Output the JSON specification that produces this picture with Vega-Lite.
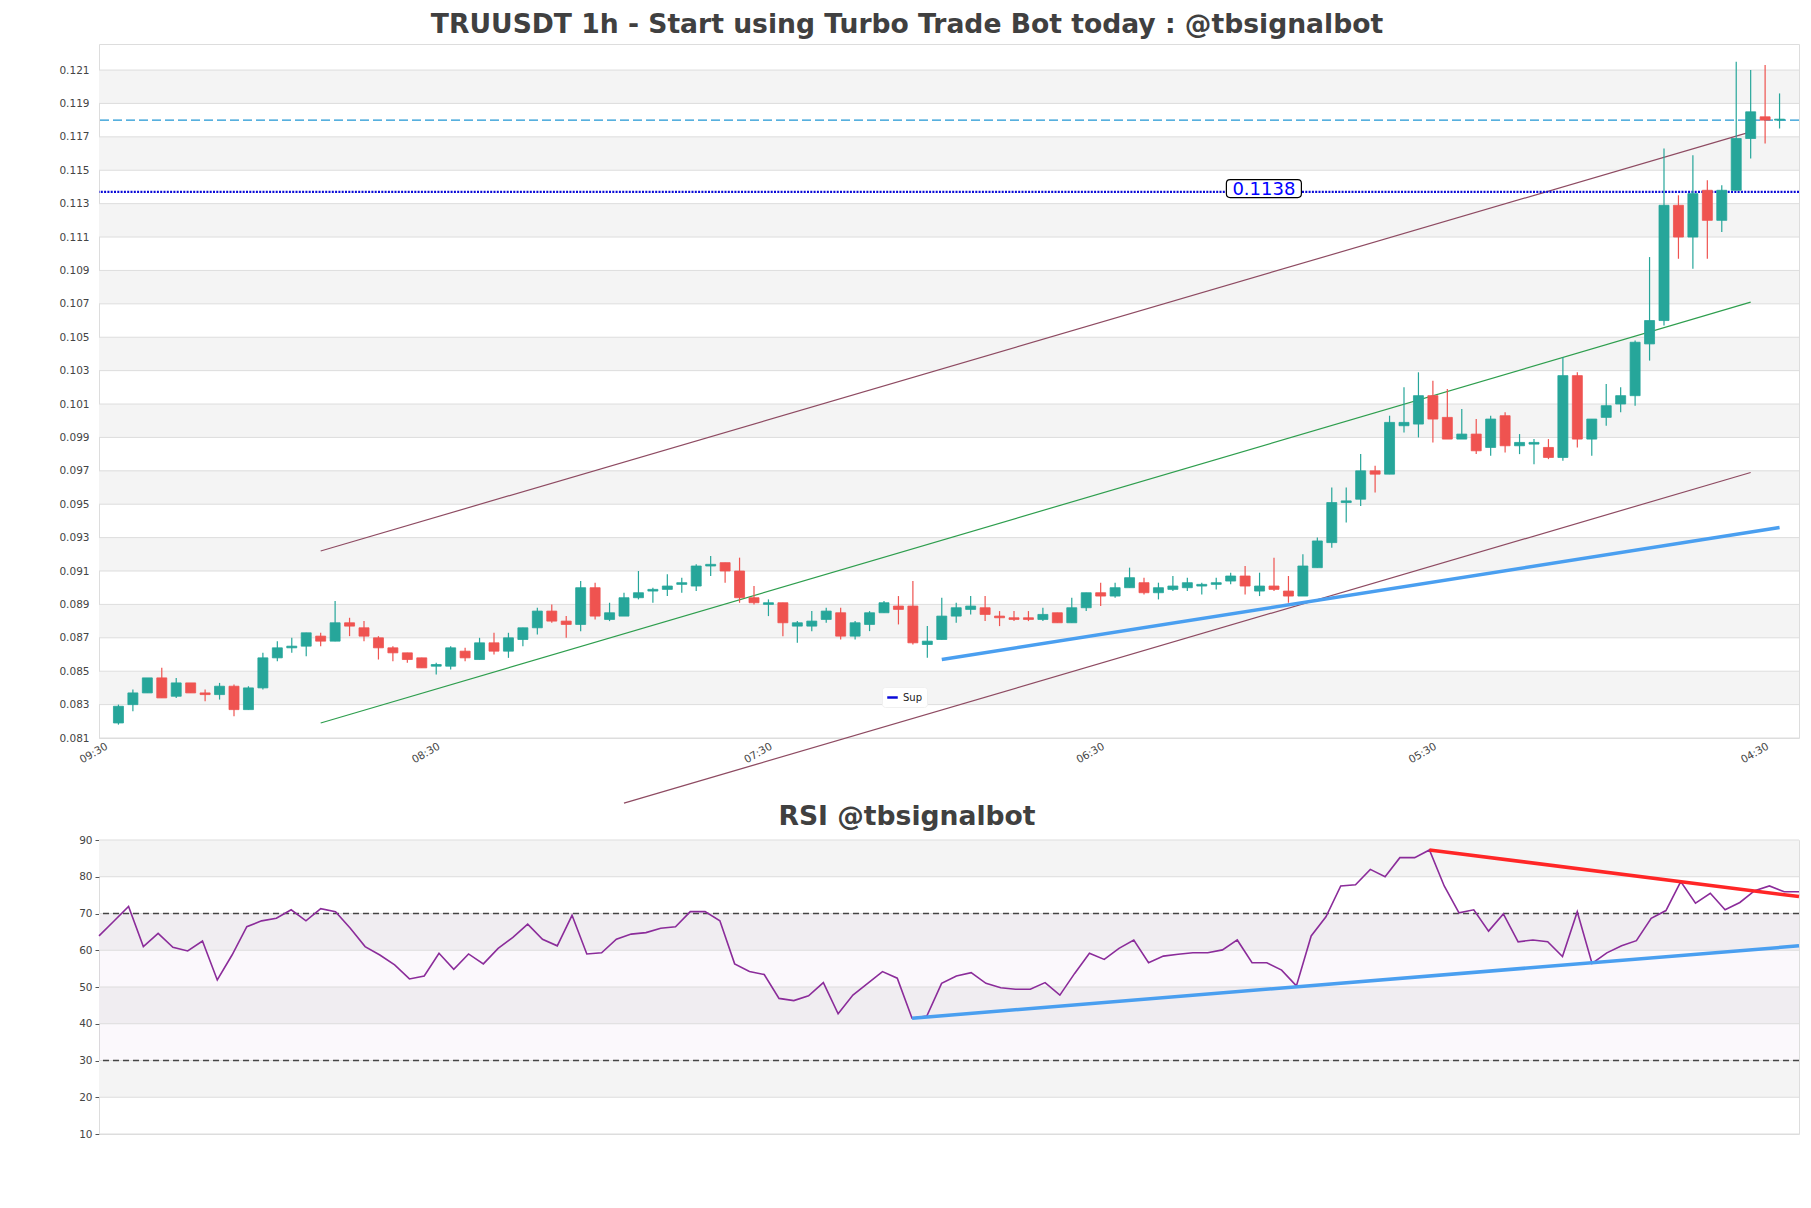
{
  "$schema": "https://vega.github.io/schema/vega-lite/v6.json",
  "padding": {"left": 58, "top": 11, "right": 5, "bottom": 5},
  "background": "white",
  "config": {
    "font": "DejaVu Sans",
    "view": {"stroke": "#dddddd", "strokeWidth": 1},
    "axis": {"labelOverlap": false, "labelBound": false}
  },
  "bounds": "flush",
  "spacing": 102,
  "resolve": {"scale": {"x": "independent", "y": "independent", "color": "independent"}, "legend": {"color": "independent"}},
  "datasets": {
    "candles": [
      {"idx":0,"open":0.0819,"high":0.0830,"low":0.0818,"close":0.0829},
      {"idx":1,"open":0.0830,"high":0.0839,"low":0.0826,"close":0.0837},
      {"idx":2,"open":0.0837,"high":0.0846,"low":0.0837,"close":0.0846},
      {"idx":3,"open":0.0846,"high":0.0852,"low":0.0834,"close":0.0834},
      {"idx":4,"open":0.0835,"high":0.0846,"low":0.0834,"close":0.0843},
      {"idx":5,"open":0.0843,"high":0.0843,"low":0.0837,"close":0.0837},
      {"idx":6,"open":0.0837,"high":0.0839,"low":0.0832,"close":0.0836},
      {"idx":7,"open":0.0836,"high":0.0843,"low":0.0833,"close":0.0841},
      {"idx":8,"open":0.0841,"high":0.0842,"low":0.0823,"close":0.0827},
      {"idx":9,"open":0.0827,"high":0.0841,"low":0.0827,"close":0.0840},
      {"idx":10,"open":0.0840,"high":0.0861,"low":0.0839,"close":0.0858},
      {"idx":11,"open":0.0858,"high":0.0868,"low":0.0856,"close":0.0864},
      {"idx":12,"open":0.0864,"high":0.0870,"low":0.0861,"close":0.0865},
      {"idx":13,"open":0.0865,"high":0.0873,"low":0.0859,"close":0.0873},
      {"idx":14,"open":0.0871,"high":0.0873,"low":0.0865,"close":0.0868},
      {"idx":15,"open":0.0868,"high":0.0892,"low":0.0868,"close":0.0879},
      {"idx":16,"open":0.0879,"high":0.0882,"low":0.0871,"close":0.0877},
      {"idx":17,"open":0.0876,"high":0.0880,"low":0.0868,"close":0.0871},
      {"idx":18,"open":0.0870,"high":0.0871,"low":0.0857,"close":0.0864},
      {"idx":19,"open":0.0864,"high":0.0865,"low":0.0856,"close":0.0861},
      {"idx":20,"open":0.0861,"high":0.0861,"low":0.0855,"close":0.0857},
      {"idx":21,"open":0.0858,"high":0.0858,"low":0.0852,"close":0.0852},
      {"idx":22,"open":0.0853,"high":0.0855,"low":0.0848,"close":0.0854},
      {"idx":23,"open":0.0853,"high":0.0865,"low":0.0851,"close":0.0864},
      {"idx":24,"open":0.0862,"high":0.0864,"low":0.0856,"close":0.0858},
      {"idx":25,"open":0.0857,"high":0.0870,"low":0.0857,"close":0.0867},
      {"idx":26,"open":0.0867,"high":0.0873,"low":0.0860,"close":0.0862},
      {"idx":27,"open":0.0862,"high":0.0873,"low":0.0858,"close":0.0870},
      {"idx":28,"open":0.0869,"high":0.0876,"low":0.0865,"close":0.0876},
      {"idx":29,"open":0.0876,"high":0.0888,"low":0.0872,"close":0.0886},
      {"idx":30,"open":0.0886,"high":0.0890,"low":0.0879,"close":0.0880},
      {"idx":31,"open":0.0880,"high":0.0883,"low":0.0870,"close":0.0878},
      {"idx":32,"open":0.0878,"high":0.0904,"low":0.0874,"close":0.0900},
      {"idx":33,"open":0.0900,"high":0.0903,"low":0.0881,"close":0.0883},
      {"idx":34,"open":0.0881,"high":0.0891,"low":0.0880,"close":0.0885},
      {"idx":35,"open":0.0883,"high":0.0897,"low":0.0883,"close":0.0894},
      {"idx":36,"open":0.0894,"high":0.0910,"low":0.0893,"close":0.0897},
      {"idx":37,"open":0.0898,"high":0.0900,"low":0.0891,"close":0.0899},
      {"idx":38,"open":0.0899,"high":0.0908,"low":0.0895,"close":0.0901},
      {"idx":39,"open":0.0902,"high":0.0906,"low":0.0897,"close":0.0903},
      {"idx":40,"open":0.0901,"high":0.0914,"low":0.0898,"close":0.0913},
      {"idx":41,"open":0.0913,"high":0.0919,"low":0.0907,"close":0.0914},
      {"idx":42,"open":0.0915,"high":0.0915,"low":0.0903,"close":0.0910},
      {"idx":43,"open":0.0910,"high":0.0918,"low":0.0891,"close":0.0894},
      {"idx":44,"open":0.0894,"high":0.0901,"low":0.0890,"close":0.0891},
      {"idx":45,"open":0.0890,"high":0.0893,"low":0.0883,"close":0.0891},
      {"idx":46,"open":0.0891,"high":0.0891,"low":0.0871,"close":0.0879},
      {"idx":47,"open":0.0877,"high":0.0880,"low":0.0867,"close":0.0879},
      {"idx":48,"open":0.0877,"high":0.0886,"low":0.0874,"close":0.0880},
      {"idx":49,"open":0.0881,"high":0.0888,"low":0.0879,"close":0.0886},
      {"idx":50,"open":0.0885,"high":0.0888,"low":0.0869,"close":0.0871},
      {"idx":51,"open":0.0871,"high":0.0880,"low":0.0869,"close":0.0879},
      {"idx":52,"open":0.0878,"high":0.0886,"low":0.0874,"close":0.0885},
      {"idx":53,"open":0.0885,"high":0.0892,"low":0.0885,"close":0.0891},
      {"idx":54,"open":0.0889,"high":0.0895,"low":0.0878,"close":0.0887},
      {"idx":55,"open":0.0889,"high":0.0904,"low":0.0866,"close":0.0867},
      {"idx":56,"open":0.0866,"high":0.0877,"low":0.0858,"close":0.0868},
      {"idx":57,"open":0.0869,"high":0.0894,"low":0.0869,"close":0.0883},
      {"idx":58,"open":0.0883,"high":0.0891,"low":0.0879,"close":0.0888},
      {"idx":59,"open":0.0887,"high":0.0895,"low":0.0884,"close":0.0889},
      {"idx":60,"open":0.0888,"high":0.0895,"low":0.0880,"close":0.0884},
      {"idx":61,"open":0.0883,"high":0.0886,"low":0.0877,"close":0.0882},
      {"idx":62,"open":0.0882,"high":0.0886,"low":0.0880,"close":0.0881},
      {"idx":63,"open":0.0882,"high":0.0886,"low":0.0880,"close":0.0881},
      {"idx":64,"open":0.0881,"high":0.0888,"low":0.0880,"close":0.0884},
      {"idx":65,"open":0.0885,"high":0.0885,"low":0.0879,"close":0.0879},
      {"idx":66,"open":0.0879,"high":0.0894,"low":0.0879,"close":0.0888},
      {"idx":67,"open":0.0888,"high":0.0897,"low":0.0886,"close":0.0897},
      {"idx":68,"open":0.0897,"high":0.0903,"low":0.0889,"close":0.0895},
      {"idx":69,"open":0.0895,"high":0.0903,"low":0.0894,"close":0.0900},
      {"idx":70,"open":0.0900,"high":0.0912,"low":0.0900,"close":0.0906},
      {"idx":71,"open":0.0903,"high":0.0906,"low":0.0896,"close":0.0897},
      {"idx":72,"open":0.0897,"high":0.0903,"low":0.0893,"close":0.0900},
      {"idx":73,"open":0.0899,"high":0.0907,"low":0.0898,"close":0.0901},
      {"idx":74,"open":0.0900,"high":0.0906,"low":0.0898,"close":0.0903},
      {"idx":75,"open":0.0901,"high":0.0903,"low":0.0896,"close":0.0902},
      {"idx":76,"open":0.0902,"high":0.0906,"low":0.0899,"close":0.0903},
      {"idx":77,"open":0.0904,"high":0.0909,"low":0.0902,"close":0.0907},
      {"idx":78,"open":0.0907,"high":0.0913,"low":0.0896,"close":0.0901},
      {"idx":79,"open":0.0898,"high":0.0909,"low":0.0895,"close":0.0901},
      {"idx":80,"open":0.0901,"high":0.0918,"low":0.0898,"close":0.0899},
      {"idx":81,"open":0.0898,"high":0.0907,"low":0.0891,"close":0.0895},
      {"idx":82,"open":0.0895,"high":0.0920,"low":0.0895,"close":0.0913},
      {"idx":83,"open":0.0912,"high":0.0930,"low":0.0912,"close":0.0928},
      {"idx":84,"open":0.0927,"high":0.0960,"low":0.0924,"close":0.0951},
      {"idx":85,"open":0.0951,"high":0.0960,"low":0.0939,"close":0.0952},
      {"idx":86,"open":0.0953,"high":0.0980,"low":0.0949,"close":0.0970},
      {"idx":87,"open":0.0970,"high":0.0973,"low":0.0957,"close":0.0968},
      {"idx":88,"open":0.0968,"high":0.1003,"low":0.0968,"close":0.0999},
      {"idx":89,"open":0.0997,"high":0.1020,"low":0.0993,"close":0.0999},
      {"idx":90,"open":0.0998,"high":0.1029,"low":0.0990,"close":0.1015},
      {"idx":91,"open":0.1015,"high":0.1024,"low":0.0987,"close":0.1001},
      {"idx":92,"open":0.1002,"high":0.1019,"low":0.0989,"close":0.0989},
      {"idx":93,"open":0.0989,"high":0.1007,"low":0.0989,"close":0.0992},
      {"idx":94,"open":0.0992,"high":0.1001,"low":0.0980,"close":0.0982},
      {"idx":95,"open":0.0984,"high":0.1003,"low":0.0979,"close":0.1001},
      {"idx":96,"open":0.1003,"high":0.1005,"low":0.0981,"close":0.0985},
      {"idx":97,"open":0.0985,"high":0.0992,"low":0.0980,"close":0.0987},
      {"idx":98,"open":0.0986,"high":0.0989,"low":0.0974,"close":0.0987},
      {"idx":99,"open":0.0984,"high":0.0989,"low":0.0977,"close":0.0978},
      {"idx":100,"open":0.0978,"high":0.1038,"low":0.0976,"close":0.1027},
      {"idx":101,"open":0.1027,"high":0.1029,"low":0.0984,"close":0.0989},
      {"idx":102,"open":0.0989,"high":0.1001,"low":0.0979,"close":0.1001},
      {"idx":103,"open":0.1002,"high":0.1022,"low":0.0997,"close":0.1009},
      {"idx":104,"open":0.1010,"high":0.1020,"low":0.1005,"close":0.1015},
      {"idx":105,"open":0.1015,"high":0.1048,"low":0.1009,"close":0.1047},
      {"idx":106,"open":0.1046,"high":0.1098,"low":0.1036,"close":0.1060},
      {"idx":107,"open":0.1060,"high":0.1163,"low":0.1057,"close":0.1129},
      {"idx":108,"open":0.1129,"high":0.1135,"low":0.1097,"close":0.1110},
      {"idx":109,"open":0.1110,"high":0.1159,"low":0.1091,"close":0.1136},
      {"idx":110,"open":0.1138,"high":0.1144,"low":0.1097,"close":0.1120},
      {"idx":111,"open":0.1120,"high":0.1141,"low":0.1113,"close":0.1138},
      {"idx":112,"open":0.1138,"high":0.1215,"low":0.1138,"close":0.1169},
      {"idx":113,"open":0.1169,"high":0.1210,"low":0.1157,"close":0.1185},
      {"idx":114,"open":0.1182,"high":0.1213,"low":0.1166,"close":0.1180},
      {"idx":115,"open":0.1180,"high":0.1196,"low":0.1175,"close":0.11806}
    ],
    "rsi": [
      {"idx":0,"rsi":63.9},{"idx":1,"rsi":67.9},{"idx":2,"rsi":71.9},{"idx":3,"rsi":61.0},{"idx":4,"rsi":64.6},
      {"idx":5,"rsi":60.8},{"idx":6,"rsi":59.8},{"idx":7,"rsi":62.5},{"idx":8,"rsi":51.9},{"idx":9,"rsi":58.7},
      {"idx":10,"rsi":66.4},{"idx":11,"rsi":68.0},{"idx":12,"rsi":68.7},{"idx":13,"rsi":71.0},{"idx":14,"rsi":68.0},
      {"idx":15,"rsi":71.3},{"idx":16,"rsi":70.5},{"idx":17,"rsi":66.0},{"idx":18,"rsi":61.0},{"idx":19,"rsi":58.7},
      {"idx":20,"rsi":56.0},{"idx":21,"rsi":52.2},{"idx":22,"rsi":53.0},{"idx":23,"rsi":59.2},{"idx":24,"rsi":54.8},
      {"idx":25,"rsi":59.0},{"idx":26,"rsi":56.3},{"idx":27,"rsi":60.5},{"idx":28,"rsi":63.5},{"idx":29,"rsi":67.1},
      {"idx":30,"rsi":63.0},{"idx":31,"rsi":61.2},{"idx":32,"rsi":69.5},{"idx":33,"rsi":59.0},{"idx":34,"rsi":59.3},
      {"idx":35,"rsi":63.0},{"idx":36,"rsi":64.4},{"idx":37,"rsi":64.8},{"idx":38,"rsi":66.0},{"idx":39,"rsi":66.4},
      {"idx":40,"rsi":70.5},{"idx":41,"rsi":70.5},{"idx":42,"rsi":68.0},{"idx":43,"rsi":56.3},{"idx":44,"rsi":54.2},
      {"idx":45,"rsi":53.4},{"idx":46,"rsi":46.9},{"idx":47,"rsi":46.3},{"idx":48,"rsi":47.6},{"idx":49,"rsi":51.2},
      {"idx":50,"rsi":42.7},{"idx":51,"rsi":47.8},{"idx":52,"rsi":51.0},{"idx":53,"rsi":54.2},{"idx":54,"rsi":52.4},
      {"idx":55,"rsi":41.5},{"idx":56,"rsi":42.1},{"idx":57,"rsi":51.0},{"idx":58,"rsi":53.0},{"idx":59,"rsi":53.9},
      {"idx":60,"rsi":51.0},{"idx":61,"rsi":49.8},{"idx":62,"rsi":49.4},{"idx":63,"rsi":49.4},{"idx":64,"rsi":51.2},
      {"idx":65,"rsi":47.8},{"idx":66,"rsi":53.7},{"idx":67,"rsi":59.2},{"idx":68,"rsi":57.5},{"idx":69,"rsi":60.5},
      {"idx":70,"rsi":62.8},{"idx":71,"rsi":56.6},{"idx":72,"rsi":58.4},{"idx":73,"rsi":58.9},{"idx":74,"rsi":59.3},
      {"idx":75,"rsi":59.3},{"idx":76,"rsi":60.1},{"idx":77,"rsi":62.8},{"idx":78,"rsi":56.6},{"idx":79,"rsi":56.6},
      {"idx":80,"rsi":54.6},{"idx":81,"rsi":50.3},{"idx":82,"rsi":63.9},{"idx":83,"rsi":69.1},{"idx":84,"rsi":77.5},
      {"idx":85,"rsi":77.8},{"idx":86,"rsi":82.0},{"idx":87,"rsi":80.0},{"idx":88,"rsi":85.2},{"idx":89,"rsi":85.2},
      {"idx":90,"rsi":87.3},{"idx":91,"rsi":77.5},{"idx":92,"rsi":70.2},{"idx":93,"rsi":71.0},{"idx":94,"rsi":65.2},
      {"idx":95,"rsi":69.9},{"idx":96,"rsi":62.3},{"idx":97,"rsi":62.8},{"idx":98,"rsi":62.3},{"idx":99,"rsi":58.3},
      {"idx":100,"rsi":70.5},{"idx":101,"rsi":56.4},{"idx":102,"rsi":59.3},{"idx":103,"rsi":61.2},{"idx":104,"rsi":62.6},
      {"idx":105,"rsi":68.7},{"idx":106,"rsi":70.8},{"idx":107,"rsi":78.7},{"idx":108,"rsi":72.8},{"idx":109,"rsi":75.5},
      {"idx":110,"rsi":71.0},{"idx":111,"rsi":73.0},{"idx":112,"rsi":76.2},{"idx":113,"rsi":77.5},{"idx":114,"rsi":75.9},
      {"idx":115,"rsi":75.9}
    ],
    "priceBands": [
      {"lo":0.083,"hi":0.085},{"lo":0.087,"hi":0.089},{"lo":0.091,"hi":0.093},{"lo":0.095,"hi":0.097},
      {"lo":0.099,"hi":0.101},{"lo":0.103,"hi":0.105},{"lo":0.107,"hi":0.109},{"lo":0.111,"hi":0.113},
      {"lo":0.115,"hi":0.117},{"lo":0.119,"hi":0.121}
    ],
    "priceGrid": [
      {"v":0.081},{"v":0.083},{"v":0.085},{"v":0.087},{"v":0.089},{"v":0.091},{"v":0.093},
      {"v":0.095},{"v":0.097},{"v":0.099},{"v":0.101},{"v":0.103},{"v":0.105},{"v":0.107},
      {"v":0.109},{"v":0.111},{"v":0.113},{"v":0.115},{"v":0.117},{"v":0.119},{"v":0.121}
    ],
    "rsiBands": [{"lo":20,"hi":30},{"lo":40,"hi":50},{"lo":60,"hi":70},{"lo":80,"hi":90}],
    "rsiGrid": [{"v":10},{"v":20},{"v":30},{"v":40},{"v":50},{"v":60},{"v":70},{"v":80},{"v":90}],
    "channels": [
      {"line":"upper","idx":14,"price":0.0922},{"line":"upper","idx":113,"price":0.1173},
      {"line":"lower","idx":35,"price":0.0771},{"line":"lower","idx":113,"price":0.0969}
    ],
    "mid": [{"idx":14,"price":0.0819},{"idx":113,"price":0.1071}],
    "support": [{"idx":57,"price":0.0857},{"idx":115,"price":0.0936}],
    "rsiSupport": [{"idx":55,"rsi":41.5},{"idx":115,"rsi":61.2}],
    "rsiResist": [{"idx":90,"rsi":87.3},{"idx":115,"rsi":74.6}]
  },
  "vconcat": [
    {
      "width": 1700,
      "height": 694,
      "title": {"text": "TRUUSDT 1h - Start using Turbo Trade Bot today : @tbsignalbot", "fontSize": 26.6, "fontWeight": "bold", "color": "#404040", "anchor": "middle", "dx": -42, "offset": 5, "font": "DejaVu Sans"},
      "layer": [
        {
          "data": {"name": "priceBands"},
          "mark": {"type": "rect", "color": "#f4f4f4"},
          "encoding": {
            "y": {"field": "lo", "type": "quantitative",
                  "scale": {"domain": [0.081, 0.12256], "nice": false, "zero": false},
                  "axis": {"values": [0.081,0.083,0.085,0.087,0.089,0.091,0.093,0.095,0.097,0.099,0.101,0.103,0.105,0.107,0.109,0.111,0.113,0.115,0.117,0.119,0.121],
                           "tickCount": 50,
                           "format": ".3f", "grid": false, "ticks": false, "domain": false, "title": null, "labelOverlap": false,
                           "labelFontSize": 10.5, "labelColor": "#444444", "labelPadding": 10, "labelFont": "DejaVu Sans"}},
            "y2": {"field": "hi"}
          }
        },
        {
          "data": {"name": "priceGrid"},
          "mark": {"type": "rule", "color": "#dddddd", "strokeWidth": 1},
          "encoding": {"y": {"field": "v", "type": "quantitative"}}
        },
        {
          "data": {"name": "channels"},
          "transform": [{"filter": "datum.line == 'upper'"}],
          "mark": {"type": "line", "color": "#8e4b62", "strokeWidth": 1.2},
          "encoding": {
            "x": {"field": "idx", "type": "quantitative"},
            "y": {"field": "price", "type": "quantitative"}
          }
        },
        {
          "data": {"name": "channels"},
          "transform": [{"filter": "datum.line == 'lower'"}],
          "mark": {"type": "line", "color": "#8e4b62", "strokeWidth": 1.2},
          "encoding": {
            "x": {"field": "idx", "type": "quantitative"},
            "y": {"field": "price", "type": "quantitative"}
          }
        },
        {
          "data": {"name": "mid"},
          "mark": {"type": "line", "color": "#2e9e4e", "strokeWidth": 1.2},
          "encoding": {
            "x": {"field": "idx", "type": "quantitative"},
            "y": {"field": "price", "type": "quantitative"}
          }
        },
        {
          "data": {"values": [{"price": 0.1180}]},
          "mark": {"type": "rule", "color": "#2196d3", "strokeWidth": 1.2, "strokeDash": [9, 4]},
          "encoding": {"y": {"field": "price", "type": "quantitative"}}
        },
        {
          "data": {"values": [{"price": 0.1137, "name": "Sup"}]},
          "mark": {"type": "rule", "strokeWidth": 2.2, "strokeDash": [2, 1.3]},
          "encoding": {
            "y": {"field": "price", "type": "quantitative"},
            "color": {"field": "name", "type": "nominal",
                      "scale": {"domain": ["Sup"], "range": ["#0a0ad8"]},
                      "legend": {"title": null, "orient": "none", "legendX": 783, "legendY": 643,
                                 "symbolType": "stroke", "symbolStrokeWidth": 2.5, "symbolSize": 110, "symbolDash": [1, 0],
                                 "labelFontSize": 10, "labelFont": "DejaVu Sans", "labelColor": "#222222",
                                 "fillColor": "white", "padding": 4, "cornerRadius": 3, "strokeColor": "#f0f0f0"}}
          }
        },
        {
          "data": {"name": "support"},
          "mark": {"type": "line", "color": "#4a9ff0", "strokeWidth": 3.5},
          "encoding": {
            "x": {"field": "idx", "type": "quantitative"},
            "y": {"field": "price", "type": "quantitative"}
          }
        },
        {
          "data": {"name": "candles"},
          "mark": {"type": "rule", "strokeWidth": 1.2},
          "encoding": {
            "x": {"field": "idx", "type": "quantitative",
                  "scale": {"domain": [-1, 116], "nice": false, "zero": false},
                  "axis": {"values": [-1, 22, 45, 68, 91, 114], "tickCount": 50,
                           "labelExpr": "datum.value == -1 ? '09:30' : datum.value == 22 ? '08:30' : datum.value == 45 ? '07:30' : datum.value == 68 ? '06:30' : datum.value == 91 ? '05:30' : '04:30'",
                           "labelAngle": -30, "labelAlign": "right", "labelBaseline": "top", "labelFlush": false, "labelOverlap": false,
                           "grid": false, "ticks": false, "domain": false, "title": null,
                           "labelFontSize": 10.5, "labelColor": "#444444", "labelPadding": 3, "labelFont": "DejaVu Sans"}},
            "y": {"field": "low", "type": "quantitative"},
            "y2": {"field": "high"},
            "stroke": {"condition": {"test": "datum.close >= datum.open", "value": "#26a69a"}, "value": "#ef5350"}
          }
        },
        {
          "data": {"name": "candles"},
          "mark": {"type": "bar", "size": 10, "strokeWidth": 0.8},
          "encoding": {
            "x": {"field": "idx", "type": "quantitative"},
            "y": {"field": "open", "type": "quantitative"},
            "y2": {"field": "close"},
            "fill": {"condition": {"test": "datum.close >= datum.open", "value": "#26a69a"}, "value": "#ef5350"},
            "stroke": {"condition": {"test": "datum.close >= datum.open", "value": "#26a69a"}, "value": "#ef5350"}
          }
        },
        {
          "data": {"values": [{"idx": 79.3, "price": 0.1139, "label": "0.1138"}]},
          "mark": {"type": "point", "shape": "M-0.9,-0.24L0.9,-0.24Q1,-0.24 1,-0.14L1,0.14Q1,0.24 0.9,0.24L-0.9,0.24Q-1,0.24 -1,0.14L-1,-0.14Q-1,-0.24 -0.9,-0.24Z",
                   "size": 5625, "filled": true, "fill": "white", "stroke": "black", "strokeWidth": 1.2, "opacity": 1},
          "encoding": {
            "x": {"field": "idx", "type": "quantitative"},
            "y": {"field": "price", "type": "quantitative"}
          }
        },
        {
          "data": {"values": [{"idx": 79.3, "price": 0.1139, "label": "0.1138"}]},
          "mark": {"type": "text", "fontSize": 18, "color": "#0000ff", "align": "center", "baseline": "middle", "font": "DejaVu Sans", "dy": 1},
          "encoding": {
            "x": {"field": "idx", "type": "quantitative"},
            "y": {"field": "price", "type": "quantitative"},
            "text": {"field": "label"}
          }
        }
      ]
    },
    {
      "width": 1700,
      "height": 294,
      "title": {"text": "RSI @tbsignalbot", "fontSize": 26.6, "fontWeight": "bold", "color": "#404040", "anchor": "middle", "dx": -42, "offset": 4, "font": "DejaVu Sans"},
      "layer": [
        {
          "data": {"name": "rsiBands"},
          "mark": {"type": "rect", "color": "#f4f4f4"},
          "encoding": {
            "y": {"field": "lo", "type": "quantitative",
                  "scale": {"domain": [10, 90], "nice": false, "zero": false},
                  "axis": {"values": [10,20,30,40,50,60,70,80,90], "tickCount": 50, "grid": false, "ticks": true, "tickSize": 4, "tickColor": "#555555", "labelOverlap": false,
                           "domain": false, "title": null, "labelFontSize": 10.5, "labelColor": "#444444", "labelPadding": 3, "labelFont": "DejaVu Sans"}},
            "y2": {"field": "hi"}
          }
        },
        {
          "data": {"values": [{"lo": 30, "hi": 70}]},
          "mark": {"type": "rect", "color": "#c8a2d8", "opacity": 0.08},
          "encoding": {
            "y": {"field": "lo", "type": "quantitative"},
            "y2": {"field": "hi"}
          }
        },
        {
          "data": {"name": "rsiGrid"},
          "mark": {"type": "rule", "color": "#dddddd", "strokeWidth": 1},
          "encoding": {"y": {"field": "v", "type": "quantitative"}}
        },
        {
          "data": {"values": [{"v": 70}, {"v": 30}]},
          "mark": {"type": "rule", "color": "#444444", "strokeWidth": 1.3, "strokeDash": [6, 4]},
          "encoding": {"y": {"field": "v", "type": "quantitative"}}
        },
        {
          "data": {"name": "rsi"},
          "mark": {"type": "line", "color": "#8b2c9a", "strokeWidth": 1.6},
          "encoding": {
            "x": {"field": "idx", "type": "quantitative", "scale": {"domain": [0, 115], "nice": false, "zero": false}, "axis": null},
            "y": {"field": "rsi", "type": "quantitative"}
          }
        },
        {
          "data": {"name": "rsiSupport"},
          "mark": {"type": "line", "color": "#4a9ff0", "strokeWidth": 3.5},
          "encoding": {
            "x": {"field": "idx", "type": "quantitative"},
            "y": {"field": "rsi", "type": "quantitative"}
          }
        },
        {
          "data": {"name": "rsiResist"},
          "mark": {"type": "line", "color": "#ff2626", "strokeWidth": 3.5},
          "encoding": {
            "x": {"field": "idx", "type": "quantitative"},
            "y": {"field": "rsi", "type": "quantitative"}
          }
        }
      ]
    }
  ]
}
